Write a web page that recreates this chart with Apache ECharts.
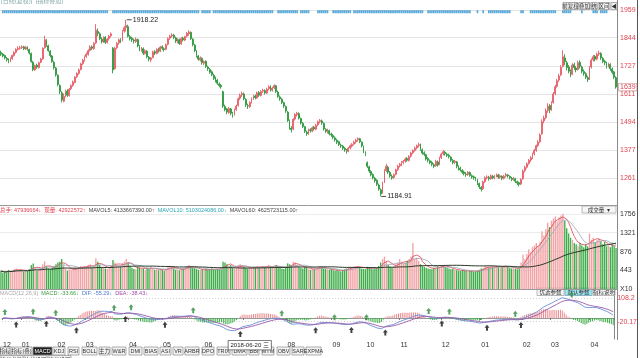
<!DOCTYPE html>
<html><head><meta charset="utf-8">
<script src="https://cdn.jsdelivr.net/npm/echarts@6/dist/echarts.min.js"></script>
<style>html,body{margin:0;padding:0;background:#fff}#c{width:640px;height:358px}</style>
</head><body><div id="c"></div><script>
const monthNames = ['2017-12','2018-01','2018-02','2018-03','2018-04','2018-05','2018-06','2018-07','2018-08','2018-09','2018-10','2018-11','2018-12','2019-01','2019-02','2019-03','2019-04'];
const monthDays = [10,19,15,23,18,22,21,23,24,18,18,22,21,22,15,21,13];
// [open, close, low, high]
const ohlc = [
[1782,1775,1768,1790],[1776,1768,1762,1780],[1770,1760,1754,1774],[1758,1752,1745,1764],[1754,1746,1738,1758],[1745,1758,1742,1762],[1757,1770,1752,1774],[1770,1782,1765,1788],[1783,1795,1778,1800],[1796,1800,1790,1808],
[1800,1802,1794,1810],[1803,1806,1797,1812],[1806,1798,1792,1810],[1797,1804,1793,1809],[1805,1796,1790,1808],[1795,1780,1774,1798],[1778,1745,1740,1782],[1742,1712,1705,1748],[1710,1728,1706,1732],[1730,1722,1715,1736],
[1720,1740,1716,1744],[1742,1755,1738,1760],[1756,1800,1752,1804],[1802,1835,1798,1852],[1832,1812,1806,1838],[1810,1790,1785,1815],[1788,1770,1762,1792],[1768,1745,1740,1772],[1742,1720,1712,1748],[1718,1690,1682,1722],
[1688,1650,1642,1692],[1645,1620,1610,1650],[1615,1585,1575,1622],[1580,1600,1576,1612],[1602,1620,1596,1628],[1622,1605,1598,1630],[1603,1630,1600,1635],[1632,1645,1626,1650],[1646,1660,1640,1666],[1658,1680,1655,1684],
[1682,1695,1676,1700],[1696,1710,1690,1716],[1712,1735,1708,1740],[1736,1750,1730,1756],[1752,1765,1745,1770],[1766,1775,1760,1782],[1774,1790,1770,1796],[1792,1805,1786,1812],[1806,1800,1792,1812],[1798,1820,1794,1826],
[1822,1875,1818,1900],[1870,1862,1850,1882],[1860,1840,1834,1866],[1838,1828,1820,1845],[1826,1845,1822,1850],[1846,1825,1818,1850],[1824,1838,1820,1842],[1840,1850,1832,1856],[1852,1860,1845,1866],[1800,1710,1696,1805],
[1715,1800,1712,1806],[1802,1820,1796,1826],[1822,1835,1815,1840],[1836,1830,1822,1842],[1832,1870,1828,1876],[1872,1885,1865,1892],[1886,1895,1870,1918.22],[1890,1850,1845,1898],[1848,1840,1832,1855],[1842,1835,1826,1848],
[1834,1830,1820,1840],[1828,1838,1822,1845],[1836,1810,1804,1840],[1808,1795,1788,1814],[1794,1800,1786,1806],[1798,1780,1772,1804],[1778,1790,1774,1796],[1788,1765,1758,1792],[1763,1755,1746,1768],[1752,1760,1742,1764],
[1762,1785,1758,1790],[1786,1780,1772,1792],[1778,1795,1775,1800],[1796,1790,1782,1802],[1788,1805,1784,1810],[1806,1800,1792,1812],[1798,1795,1786,1804],[1796,1815,1792,1820],[1817,1840,1812,1845],[1842,1850,1835,1856],
[1851,1855,1844,1862],[1854,1845,1838,1860],[1843,1830,1822,1848],[1828,1835,1820,1842],[1836,1820,1814,1840],[1818,1840,1815,1846],[1842,1835,1828,1848],[1834,1848,1830,1852],[1850,1862,1845,1868],[1860,1868,1852,1875],
[1866,1840,1834,1870],[1838,1815,1808,1842],[1813,1790,1784,1818],[1788,1770,1762,1792],[1768,1755,1748,1772],[1752,1760,1745,1766],[1758,1740,1732,1762],[1738,1745,1730,1750],[1746,1725,1718,1750],[1722,1715,1706,1728],
[1712,1700,1694,1718],[1702,1690,1684,1708],[1688,1675,1668,1694],[1676,1665,1658,1682],[1668,1655,1648,1672],[1652,1645,1638,1658],[1646,1640,1632,1652],[1620,1560,1552,1624],[1558,1545,1538,1566],[1548,1535,1526,1552],
[1532,1550,1528,1556],[1548,1530,1522,1552],[1528,1525,1512,1536],[1526,1545,1520,1550],[1546,1560,1540,1566],[1562,1590,1558,1596],[1592,1605,1585,1612],[1606,1612,1598,1620],[1610,1590,1584,1616],[1588,1565,1556,1592],
[1562,1560,1548,1570],[1558,1575,1552,1580],[1576,1590,1570,1596],[1592,1600,1585,1606],[1602,1595,1588,1608],[1594,1615,1590,1620],[1616,1605,1598,1622],[1604,1620,1600,1626],[1622,1625,1614,1632],[1624,1615,1608,1630],
[1614,1630,1610,1636],[1632,1640,1625,1646],[1642,1628,1620,1646],[1626,1635,1620,1640],[1636,1645,1630,1650],[1644,1620,1614,1648],[1618,1600,1594,1624],[1598,1590,1582,1604],[1588,1575,1568,1594],[1574,1560,1552,1578],
[1558,1540,1532,1562],[1535,1500,1494,1540],[1498,1470,1462,1504],[1468,1462,1450,1476],[1464,1505,1460,1510],[1506,1525,1500,1530],[1524,1530,1516,1536],[1528,1510,1504,1534],[1508,1490,1484,1512],[1488,1475,1468,1494],
[1474,1455,1448,1478],[1452,1445,1436,1458],[1446,1460,1440,1466],[1462,1458,1450,1468],[1456,1470,1452,1475],[1472,1465,1458,1478],[1464,1480,1460,1486],[1482,1495,1476,1500],[1496,1500,1488,1506],[1498,1490,1482,1504],
[1488,1465,1458,1492],[1463,1455,1448,1468],[1454,1460,1446,1466],[1458,1445,1438,1462],[1444,1440,1432,1450],[1438,1430,1422,1444],[1428,1420,1412,1434],[1418,1410,1402,1424],[1412,1400,1394,1416],[1398,1395,1386,1404],
[1394,1385,1378,1398],[1384,1378,1370,1390],[1376,1370,1362,1382],[1372,1385,1368,1390],[1386,1395,1380,1400],[1394,1400,1388,1406],[1402,1410,1396,1416],[1411,1418,1404,1424],[1420,1425,1412,1430],[1424,1412,1406,1428],
[1410,1395,1388,1414],[1392,1370,1364,1396],[1368,1360,1352,1372],[1325,1310,1302,1330],[1308,1290,1282,1312],[1288,1275,1268,1294],[1276,1262,1255,1280],[1260,1250,1242,1266],[1252,1235,1228,1256],[1232,1215,1208,1238],
[1212,1195,1184.91,1218],[1200,1240,1196,1246],[1244,1290,1240,1298],[1292,1310,1286,1320],[1306,1285,1278,1312],[1284,1270,1262,1290],[1268,1262,1254,1276],[1264,1275,1258,1280],[1276,1295,1272,1300],[1296,1310,1290,1316],
[1312,1318,1305,1324],[1316,1325,1310,1332],[1326,1330,1318,1336],[1332,1340,1325,1346],[1342,1335,1328,1348],[1334,1350,1330,1356],[1352,1365,1346,1370],[1366,1375,1360,1380],[1376,1385,1370,1392],[1386,1395,1380,1400],
[1396,1400,1388,1408],[1398,1380,1374,1404],[1378,1365,1358,1384],[1366,1360,1352,1372],[1358,1340,1334,1362],[1342,1335,1326,1348],[1333,1325,1318,1338],[1326,1318,1310,1332],[1316,1310,1302,1322],[1312,1330,1308,1336],
[1328,1315,1308,1334],[1318,1345,1314,1350],[1346,1360,1340,1366],[1362,1370,1355,1378],[1368,1362,1354,1374],[1360,1355,1348,1366],[1356,1350,1342,1362],[1348,1335,1328,1352],[1334,1325,1318,1340],[1326,1330,1320,1336],
[1328,1310,1302,1332],[1308,1300,1292,1314],[1302,1295,1288,1308],[1293,1285,1278,1298],[1286,1280,1272,1292],[1278,1275,1266,1286],[1276,1285,1270,1290],[1284,1272,1266,1288],[1270,1265,1258,1276],[1266,1262,1254,1272],
[1260,1255,1248,1266],[1254,1240,1232,1258],[1238,1225,1216,1242],[1222,1215,1205,1228],[1216,1245,1212,1250],[1246,1262,1240,1268],[1262,1265,1255,1272],[1264,1258,1250,1270],[1258,1270,1254,1276],[1268,1262,1256,1274],
[1262,1268,1256,1274],[1270,1275,1264,1280],[1274,1265,1258,1278],[1264,1270,1258,1276],[1268,1260,1252,1272],[1260,1268,1255,1274],[1270,1275,1264,1282],[1274,1270,1262,1278],[1268,1262,1255,1272],[1260,1255,1248,1266],
[1256,1260,1250,1266],[1258,1248,1240,1262],[1246,1240,1232,1250],[1242,1235,1226,1246],[1236,1255,1232,1260],[1258,1290,1254,1296],[1292,1305,1285,1312],[1306,1320,1300,1326],[1322,1335,1316,1340],[1336,1345,1328,1352],
[1346,1360,1340,1366],[1362,1375,1355,1382],[1376,1395,1370,1400],[1396,1410,1390,1418],[1412,1440,1406,1446],[1445,1495,1440,1505],[1498,1510,1488,1520],[1512,1540,1505,1550],[1542,1560,1532,1572],[1562,1545,1530,1568],
[1548,1570,1540,1580],[1575,1610,1570,1618],[1612,1640,1605,1648],[1642,1665,1636,1672],[1668,1685,1660,1694],[1690,1720,1684,1730],[1725,1765,1720,1792],[1760,1745,1730,1775],[1740,1720,1708,1748],[1722,1705,1696,1730],
[1702,1690,1680,1712],[1692,1730,1688,1738],[1732,1720,1710,1740],[1718,1710,1700,1726],[1712,1740,1708,1748],[1742,1725,1716,1750],[1722,1705,1696,1728],[1704,1695,1686,1712],[1694,1680,1672,1700],[1678,1670,1660,1686],
[1672,1720,1668,1726],[1722,1750,1716,1758],[1752,1765,1745,1772],[1766,1755,1746,1772],[1756,1775,1750,1782],[1776,1780,1768,1790],[1778,1760,1752,1784],[1758,1745,1738,1764],[1746,1740,1730,1752],[1738,1725,1716,1744],
[1726,1735,1720,1740],[1733,1715,1706,1738],[1714,1700,1692,1720],[1702,1680,1672,1706],[1678,1639,1632,1684]
];
const volume = [
420,380,400,390,450,410,430,460,480,440,
450,430,410,440,420,470,560,600,480,430,460,470,580,650,520,480,470,500,540,
580,620,640,700,560,480,430,460,450,470,500,480,510,540,520,
530,520,560,580,500,540,720,640,560,500,520,480,470,520,540,680,620,560,540,520,600,640,700,
620,540,500,470,460,520,500,470,480,440,500,480,520,470,450,460,440,470,
450,430,470,520,540,520,480,450,460,440,480,470,500,540,560,520,500,490,470,450,440,460,
440,460,450,470,480,460,450,470,460,450,640,620,580,540,560,500,480,500,540,580,560,
520,500,480,490,510,520,500,540,500,520,540,510,530,560,520,510,540,560,520,500,480,470,520,
600,580,560,640,620,560,520,500,480,520,500,460,450,470,460,480,520,540,500,480,470,460,450,460,
440,430,450,420,410,440,460,480,500,520,510,530,520,540,500,480,470,460,
520,500,480,460,470,490,540,620,700,760,640,560,520,500,540,580,620,700,
640,600,620,660,700,760,1080,700,730,660,580,540,520,500,480,470,460,500,480,540,520,560,
560,520,500,480,460,470,450,440,430,420,440,430,420,410,430,420,400,410,430,450,480,
500,540,520,500,520,510,530,540,520,500,520,530,550,520,500,480,490,470,460,480,620,800,
700,820,930,860,980,1020,1080,1000,1100,1350,1250,1400,1550,1450,1600,
1650,1700,1580,1680,1720,1760,1600,1420,1300,1200,1150,1080,1050,1000,1080,1020,980,1050,1000,1300,1150,
1200,1100,1150,1180,1120,1050,1100,1000,1020,980,1050,1000,960
];
const eventRanges = [[1,37],[38,56],[59,84],[85,94],[95,104],[106,110],[112,143],[146,156],[158,162],[167,172],[175,184],[186,193],[194,222],[225,247],[251,251],[254,254],[257,268],[274,275],[279,292],[296,300],[306,306],[312,314],[316,319]];
const priceTicks = [1261,1377,1494,1611,1727,1844,1959];
const volTicks = [0,443,876,1321,1756];
const macdTicks = [-20.17,108.2];
const crossMonth = '2018-06', crossDay = 13, crossText = '2018-06-20 三';
const volHeader = ['总手: 47936664↓','现量: 42922572↑','MAVOL5: 4133667390.00↑','MAVOL10: 5103024086.00↓','MAVOL60: 4625723115.00↑'];
const macdHeader = ['MACD(12,26,9)','MACD: -33.66↓','DIF: -55.29↓','DEA: -38.43↓'];
const tabNames = ['指标','指标(叠)','MACD','KDJ','RSI','BOLL','主力','W&R','DMI','BIAS','ASI','VR','ARBR','DPO','TRIX','DMA','BBI','MTM','OBV','SAR','EXPMA'];

// ---- build categories
const categories = [], monthStart = [];
monthNames.forEach((m, mi) => { for (let d = 1; d <= monthDays[mi]; d++) { categories.push(m + '#' + d); monthStart.push(d === 1); } });
const crossIdx = categories.indexOf(crossMonth + '#' + crossDay);
const closes = ohlc.map(r => r[1]);
function ema(src, n) { const k = 2 / (n + 1), out = []; src.forEach((v, i) => out.push(i === 0 ? v : v * k + out[i - 1] * (1 - k))); return out; }
function ma(src, n) { return src.map((_, i) => { const s = Math.max(0, i - n + 1); let t = 0; for (let j = s; j <= i; j++) t += src[j]; return +(t / (i - s + 1)).toFixed(1); }); }
const e12 = ema(closes, 12), e26 = ema(closes, 26);
const dif = closes.map((_, i) => e12[i] - e26[i]);
const dea = ema(dif, 9);
const macd = dif.map((d, i) => 2 * (d - dea[i]));
const upCol = '#ef7d84', dnCol = '#2f9a3f';
const volData = volume.map((v, i) => ({ value: v, itemStyle: { color: ohlc[i][1] >= ohlc[i][0] ? '#f3a3a6' : '#3fae4a' } }));
const macdData = macd.map(v => ({ value: +v.toFixed(2), itemStyle: { color: v >= 0 ? '#ec8c90' : '#3fae4a' } }));
const golden = [], death = [];
for (let i = 1; i < dif.length; i++) {
  const a = dif[i - 1] - dea[i - 1], b = dif[i] - dea[i];
  if (a <= 0 && b > 0) golden.push([i, +dif[i].toFixed(2)]);
  if (a >= 0 && b < 0) death.push([i, +dif[i].toFixed(2)]);
}
const events = [];
eventRanges.forEach(([s, e]) => { for (let i = s; i <= e; i++) events.push([i, 0]); });
let hiIdx = 0, loIdx = 0;
ohlc.forEach((r, i) => { if (r[3] > ohlc[hiIdx][3]) hiIdx = i; if (r[2] < ohlc[loIdx][2]) loIdx = i; });

const FONT = 'Liberation Sans, Arial, Noto Sans CJK SC, sans-serif';
const gridR = 23;
function xAx(gi) {
  return { type: 'category', gridIndex: gi, data: categories, boundaryGap: true,
    axisLine: { show: true, lineStyle: { color: '#9a9a9a', width: 1 } },
    axisTick: { show: false }, axisLabel: { show: false }, splitLine: { show: false } };
}
const xAxes = [xAx(0), xAx(1), xAx(2), xAx(3)];
xAxes[3].axisLine.show = false;
xAxes[2].axisLabel = { show: true, interval: (i) => monthStart[i], formatter: v => v.split('#')[0].slice(5), align: 'left', fontSize: 7, color: '#333', margin: 3, fontFamily: FONT };
xAxes[2].axisTick = { show: true, interval: (i) => monthStart[i], length: 2, lineStyle: { color: '#777' } };
xAxes[2].axisPointer = { show: true, value: crossIdx, status: 'show', snap: false, triggerTooltip: false, type: 'line',
  lineStyle: { color: 'rgba(0,0,0,0)' },
  label: { show: true, formatter: () => '{s|}{b|' + crossText + '}', backgroundColor: 'rgba(0,0,0,0)', padding: 0, margin: 2, color: '#333', fontSize: 5.5, fontFamily: FONT,
    rich: { s: { width: 27 }, b: { backgroundColor: '#fff', borderColor: '#555', borderWidth: 0.8, padding: [1.5, 2, 1, 2], fontSize: 6, color: '#222', fontFamily: FONT } } } };

function yAx(gi, min, max, ticks, col) {
  return { type: 'value', gridIndex: gi, position: 'right', min, max, scale: true,
    axisLine: { show: true, lineStyle: { color: '#8a8a8a' } },
    axisTick: { show: false, customValues: ticks },
    axisLabel: { show: true, customValues: ticks, fontSize: 7, color: col, margin: 3, fontFamily: FONT, formatter: v => String(v) },
    splitLine: { show: true, lineStyle: { color: '#e4e4e4', width: 1 } } };
}
const yAxes = [
  yAx(0, 1149, 1959, priceTicks, '#e0434f'),
  yAx(1, 0, 1803, volTicks, '#333'),
  yAx(2, -113.6, 119, macdTicks, '#e0434f'),
  { type: 'value', gridIndex: 3, min: -1, max: 1, show: false }
];
yAxes[1].axisLabel.formatter = v => v === 0 ? 'X10' : String(v);
yAxes[1].splitLine.lineStyle.color = '#ececec';
yAxes[2].splitLine.lineStyle = { color: '#d0d0d0', type: [1, 2] };

function btn(x, y, w, h, text, bg, fc, bc) {
  return { type: 'group', x, y, children: [
    { type: 'rect', shape: { x: 0, y: 0, width: w, height: h }, style: { fill: bg || '#f4f4f4', stroke: bc || '#a8a8a8', lineWidth: 0.8 } },
    { type: 'text', x: w / 2, y: h / 2 + 0.5, style: { text, fill: fc || '#333', font: '5.5px ' + FONT, align: 'center', verticalAlign: 'middle' } } ] };
}
const tabX = [0, 11, 33, 53, 68, 82, 99, 112, 129, 144, 160, 173, 185, 202, 217, 232, 249, 262, 277, 292, 306];
const tabW = [10, 21, 19, 12, 11, 15, 11, 14, 13, 14, 11, 10, 14, 12, 13, 15, 10, 12, 13, 12, 15];
const graphics = [];
tabNames.forEach((t, i) => graphics.push(btn(tabX[i], 347, tabW[i], 8, t, i === 2 ? '#222' : '#f2f2f2', i === 2 ? '#fff' : '#333', '#999')));
['指标参数', '均线设置', '指标设置'].forEach((t, i) => graphics.push(btn(i * 24, 355.5, 23, 8, t, '#f2f2f2', '#333', '#999')));
graphics.push(btn(582, 206, 34, 7, '成交量  ▾', '#f6f6f6', '#333', '#aaa'));
graphics.push(btn(537, 288, 27, 7.5, '优选参数', '#f6f6f6', '#333', '#aaa'));
graphics.push(btn(565, 288, 27, 7.5, '默认参数', '#9fe6f4', '#333', '#7ab'));
graphics.push(btn(593, 288, 22, 7.5, '指标说明', '#f6f6f6', '#333', '#aaa'));
[[563, 15, '前复权'], [579, 11, '叠加'], [591, 6, '统'], [598, 12, '区间'], [611, 6, '◀']].forEach(b => graphics.push(btn(b[0], 2.5, b[1], 7, b[2], '#f4f4f4', '#333', '#999')));
graphics.push({ type: 'text', x: 1, y: -2, style: { text: '[日线(复权)]  [指标叠加]', fill: '#8aa', font: '6px ' + FONT } });
graphics.push({ type: 'line', shape: { x1: 637.5, y1: 0, x2: 637.5, y2: 358 }, style: { stroke: '#555', lineWidth: 1 } });
graphics.push({ type: 'line', shape: { x1: 617.5, y1: 0, x2: 617.5, y2: 340 }, style: { stroke: '#8a8a8a', lineWidth: 1 } });
graphics.push({ type: 'text', x: 0, y: 207.5, style: { text: `{a|${volHeader[0]}}  {a|${volHeader[1]}}  {c|${volHeader[2]}}  {d|${volHeader[3]}}  {c|${volHeader[4]}}`,
  font: '5.5px ' + FONT, rich: { a: { fill: '#e0434f', font: '5.5px ' + FONT }, c: { fill: '#444', font: '5.5px ' + FONT }, d: { fill: '#2aa6b6', font: '5.5px ' + FONT } } } });
graphics.push({ type: 'text', x: 0, y: 290.5, style: { text: `{g|${macdHeader[0]}}  {m|${macdHeader[1]}}  {f|${macdHeader[2]}}  {e|${macdHeader[3]}}`,
  font: '5.5px ' + FONT, rich: { g: { fill: '#aaa', font: '5.5px ' + FONT }, m: { fill: '#3a9a3a', font: '5.5px ' + FONT }, f: { fill: '#4a78d0', font: '5.5px ' + FONT }, e: { fill: '#a04aa8', font: '5.5px ' + FONT } } } });

const arrowPath = 'path://M5,0L10,5L7,5L7,10L3,10L3,5L0,5Z';
const mpLabel = { show: true, position: 'right', distance: 1, fontSize: 7, color: '#222', fontFamily: FONT, formatter: p => p.value };
const option = {
  animation: false, backgroundColor: '#fff',
  axisPointer: { triggerOn: 'none' },
  grid: [
    { left: 0, right: gridR, top: 10, height: 195 },
    { left: 0, right: gridR, top: 212, height: 77 },
    { left: 0, right: gridR, top: 296, height: 43 },
    { left: 0, right: gridR, top: 10, height: 3.4 }
  ],
  xAxis: xAxes, yAxis: yAxes,
  graphic: graphics,
  series: [
    { type: 'candlestick', xAxisIndex: 0, yAxisIndex: 0, data: ohlc, barWidth: '72%',
      itemStyle: { color: upCol, color0: dnCol, borderColor: '#e65f69', borderColor0: dnCol, borderWidth: 0.9 },
      markPoint: { symbol: 'rect', symbolSize: [5, 0.8], symbolOffset: [3, 0], itemStyle: { color: '#222' }, label: mpLabel, animation: false,
        data: [{ coord: [hiIdx, ohlc[hiIdx][3]], value: ohlc[hiIdx][3] }, { coord: [loIdx, ohlc[loIdx][2]], value: ohlc[loIdx][2] }] },
      markLine: { silent: true, symbol: 'none', lineStyle: { color: 'rgba(0,0,0,0)' },
        label: { position: 'end', distance: 2, formatter: p => Math.round(p.value), fontSize: 7, color: '#e0434f', backgroundColor: '#fff', borderColor: '#c88', borderWidth: 0.6, padding: [0, 1], fontFamily: FONT },
        data: [{ yAxis: closes[closes.length - 1] }] } },
    { type: 'scatter', xAxisIndex: 3, yAxisIndex: 3, data: events, symbol: 'rect', symbolSize: [1.7, 3], itemStyle: { color: '#2f95d0' }, silent: true },
    { type: 'bar', xAxisIndex: 1, yAxisIndex: 1, data: volData, barWidth: '72%' },
    { type: 'line', xAxisIndex: 1, yAxisIndex: 1, data: ma(volume, 5), symbol: 'none', lineStyle: { color: '#e0434f', width: 0.8 } },
    { type: 'line', xAxisIndex: 1, yAxisIndex: 1, data: ma(volume, 10), symbol: 'none', lineStyle: { color: '#9aa6b8', width: 0.8 } },
    { type: 'line', xAxisIndex: 1, yAxisIndex: 1, data: ma(volume, 60), symbol: 'none', lineStyle: { color: '#2b3a2b', width: 1 } },
    { type: 'bar', xAxisIndex: 2, yAxisIndex: 2, data: macdData, barWidth: 1 },
    { type: 'line', xAxisIndex: 2, yAxisIndex: 2, data: dif.map(v => +v.toFixed(2)), symbol: 'none', lineStyle: { color: '#6a8fd8', width: 0.9 } },
    { type: 'line', xAxisIndex: 2, yAxisIndex: 2, data: dea.map(v => +v.toFixed(2)), symbol: 'none', lineStyle: { color: '#9a5aa8', width: 0.9 } },
    { type: 'scatter', xAxisIndex: 2, yAxisIndex: 2, data: golden, symbol: arrowPath, symbolSize: [5, 6], symbolOffset: [0, 6], itemStyle: { color: '#111' } },
    { type: 'scatter', xAxisIndex: 2, yAxisIndex: 2, data: death, symbol: arrowPath, symbolSize: [5, 6], symbolOffset: [0, -6], itemStyle: { color: '#2e8b3a' } }
  ]
};
const chart = echarts.init(document.getElementById('c'), null, { renderer: 'canvas' });
chart.setOption(option);
</script></body></html>
